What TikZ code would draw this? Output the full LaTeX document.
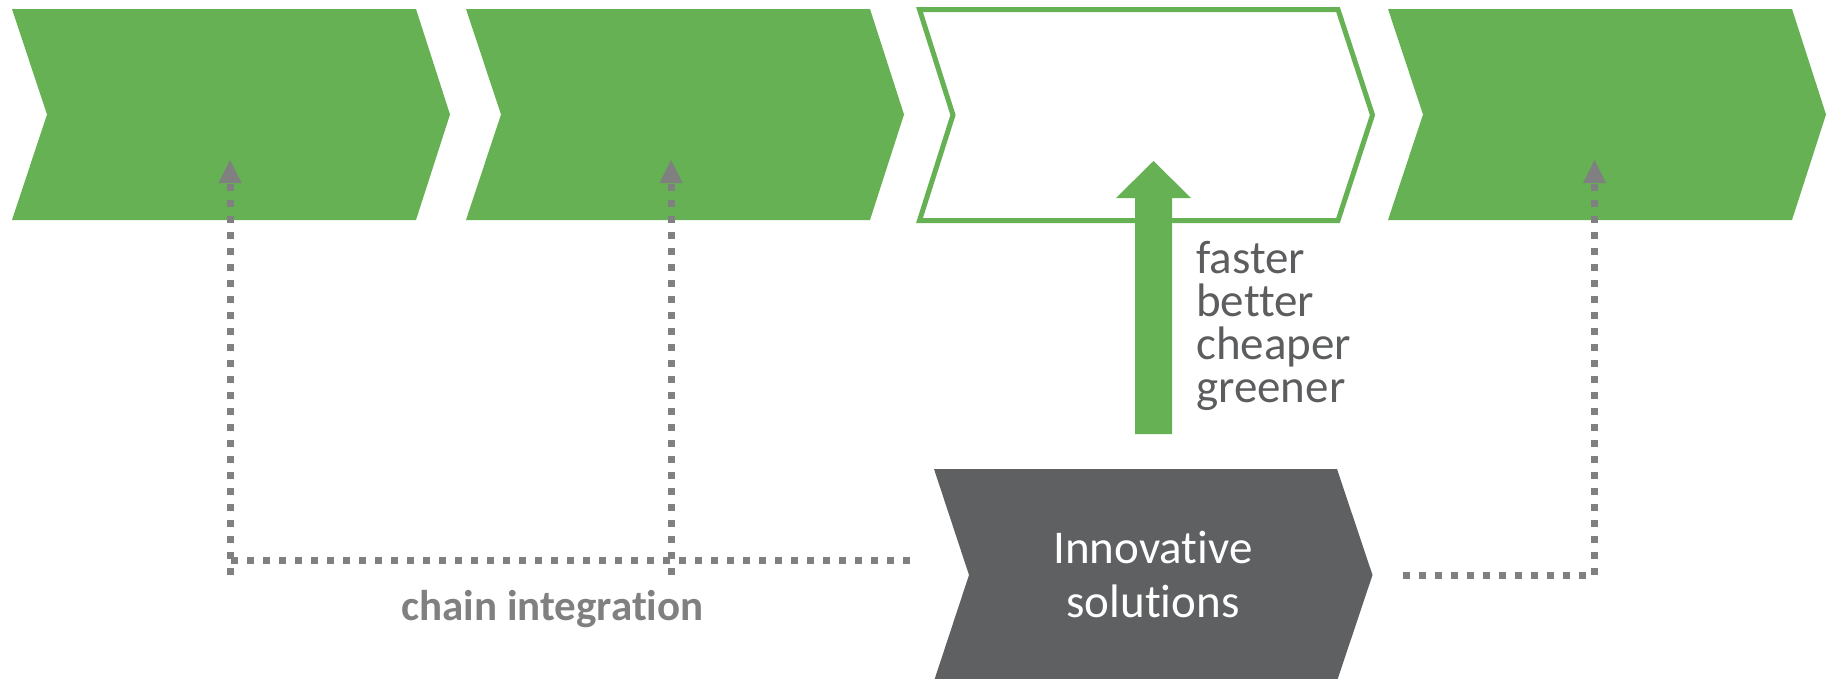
\documentclass[tikz,border=0pt]{standalone}
\usepackage{fontspec}
\setmainfont{Carlito}[Ligatures=NoCommon]
\definecolor{grn}{HTML}{65B153}
\definecolor{dgray}{HTML}{5F6062}
\definecolor{dotgray}{HTML}{808080}
\definecolor{txtgray}{HTML}{5C5D5F}
\tikzset{
  dotline/.style={draw=dotgray, line width=7pt, dash pattern=on 7pt off 9pt, line cap=butt},
  dothead/.style={fill=dotgray},
  greentxt/.style={anchor=base west, inner sep=0pt, text=txtgray, font=\fontsize{47}{47}\selectfont},
  whitetxt/.style={anchor=base, inner sep=0pt, text=white, font=\fontsize{47}{47}\selectfont},
  labeltxt/.style={anchor=base, inner sep=0pt, text=dotgray, font=\bfseries\fontsize{43}{43}\selectfont}
}
\begin{document}
\begin{tikzpicture}[x=1pt,y=-1pt]
\useasboundingbox (0,0) rectangle (1826,678);
% chevrons
\fill[grn] (12,9) -- (416,9) -- (450,114.5) -- (416,220) -- (12,220) -- (47,114.5) -- cycle;
\fill[grn] (466,9) -- (870,9) -- (904,114.5) -- (870,220) -- (466,220) -- (501,114.5) -- cycle;
\draw[grn, line width=5pt, line join=miter] (919.5,9.5) -- (1338,9.5) -- (1372.5,115) -- (1338,220.5) -- (919.5,220.5) -- (953,115) -- cycle;
\fill[grn] (1388,9) -- (1792,9) -- (1826,114.5) -- (1792,220) -- (1388,220) -- (1423,114.5) -- cycle;
\fill[dgray] (934,469) -- (1337,469) -- (1372.5,575) -- (1337,681) -- (934,681) -- (969,575) -- cycle;
% named points
\coordinate (a1t) at (230,160);
\coordinate (a1b) at (230,575);
\coordinate (a2t) at (671,160);
\coordinate (a2b) at (671,575);
\coordinate (a3t) at (1594.5,160);
\coordinate (a3c) at (1594.5,575);
\coordinate (hl) at (230,560);
\coordinate (hr) at (910,560);
\coordinate (rs) at (1403,575);
\coordinate (gb) at (1153.5,434);
\coordinate (gt) at (1153.5,161);
% green arrow
\fill[grn] (gb) ++(-18.5,0) -- ++(0,-236) -- ++(-19,0) -- (gt) -- ++(37.5,37) -- ++(-19,0) -- ++(0,236) -- cycle;
% dotted connectors
\draw[dotline] (a1b) -- ([yshift=-23pt]a1t);
\draw[dotline] (a2b) -- ([yshift=-23pt]a2t);
\draw[dotline] (hr) -- (hl);
\draw[dotline] (rs) -- (a3c) -- ([yshift=-23pt]a3t);
\fill[dothead] (a1t) -- ++(-11.5,23) -- ++(23,0) -- cycle;
\fill[dothead] (a2t) -- ++(-11.5,23) -- ++(23,0) -- cycle;
\fill[dothead] (a3t) -- ++(-11.5,23) -- ++(23,0) -- cycle;
% texts
\node[greentxt] (f1) at (1196,273) {faster};
\node[greentxt] (f2) at (1196,316) {better};
\node[greentxt] (f3) at (1196,359) {cheaper};
\node[greentxt] (f4) at (1196,402) {greener};
\node[whitetxt] (in1) at (1153,563) {Innovative};
\node[whitetxt] (in2) at (1153,617) {solutions};
\node[labeltxt] (ci) at (552.5,620) {chain integration};
\end{tikzpicture}
\end{document}
